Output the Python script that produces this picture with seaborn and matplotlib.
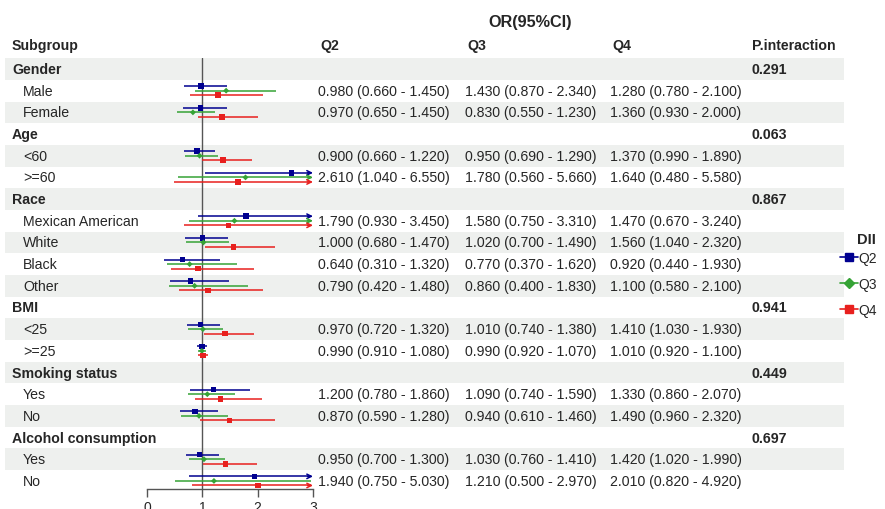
import numpy as np
import pandas as pd
import matplotlib
matplotlib.use("Agg")
import matplotlib.pyplot as plt
from matplotlib.lines import Line2D
import seaborn as sns

sns.set_theme(style="white")
plt.rcParams['font.family'] = ['Liberation Sans', 'DejaVu Sans']

# ---------------- data ----------------
groups = ["Gender", "Age", "Race", "BMI", "Smoking status", "Alcohol consumption"]
p_interaction = ["0.291", "0.063", "0.867", "0.941", "0.449", "0.697"]
subgroups = [["Male", "Female"], ["<60", ">=60"],
             ["Mexican American", "White", "Black", "Other"],
             ["<25", ">=25"], ["Yes", "No"], ["Yes", "No"]]

q2_or = [0.980, 0.970, 0.900, 2.610, 1.790, 1.000, 0.640, 0.790, 0.970, 0.990, 1.200, 0.870, 0.950, 1.940]
q2_lo = [0.660, 0.650, 0.660, 1.040, 0.930, 0.680, 0.310, 0.420, 0.720, 0.910, 0.780, 0.590, 0.700, 0.750]
q2_hi = [1.450, 1.450, 1.220, 6.550, 3.450, 1.470, 1.320, 1.480, 1.320, 1.080, 1.860, 1.280, 1.300, 5.030]

q3_or = [1.430, 0.830, 0.950, 1.780, 1.580, 1.020, 0.770, 0.860, 1.010, 0.990, 1.090, 0.940, 1.030, 1.210]
q3_lo = [0.870, 0.550, 0.690, 0.560, 0.750, 0.700, 0.370, 0.400, 0.740, 0.920, 0.740, 0.610, 0.760, 0.500]
q3_hi = [2.340, 1.230, 1.290, 5.660, 3.310, 1.490, 1.620, 1.830, 1.380, 1.070, 1.590, 1.460, 1.410, 2.970]

q4_or = [1.280, 1.360, 1.370, 1.640, 1.470, 1.560, 0.920, 1.100, 1.410, 1.010, 1.330, 1.490, 1.420, 2.010]
q4_lo = [0.780, 0.930, 0.990, 0.480, 0.670, 1.040, 0.440, 0.580, 1.030, 0.920, 0.860, 0.960, 1.020, 0.820]
q4_hi = [2.100, 2.000, 1.890, 5.580, 3.240, 2.320, 1.930, 2.100, 1.930, 1.100, 2.070, 2.320, 1.990, 4.920]

quartiles = ["Q2", "Q3", "Q4"]
x_ticks = [0, 1, 2, 3]

# ---------------- style ----------------
colors = {"Q2": "#000090", "Q3": "#35A335", "Q4": "#E8201E"}
markers = {"Q2": "s", "Q3": "D", "Q4": "s"}
msize = {"Q2": 16, "Q3": 9, "Q4": 16}
offsets = {"Q2": -0.21, "Q3": 0.0, "Q4": 0.21}
shade = "#EEF0EE"
W, H = 885, 510
row0, pitch = 70.0, 21.68

# build row layout
rows = []  # (label, is_group, p, data_index)
k = 0
for g, p, subs in zip(groups, p_interaction, subgroups):
    rows.append((g, True, p, None))
    for s in subs:
        rows.append((s, False, "", k))
        k += 1

recs = []
series = {"Q2": (q2_or, q2_lo, q2_hi), "Q3": (q3_or, q3_lo, q3_hi), "Q4": (q4_or, q4_lo, q4_hi)}
for i, (lab, isg, p, di) in enumerate(rows):
    if di is None:
        continue
    for q in quartiles:
        o, lo, hi = series[q]
        recs.append(dict(row=i, y=i + offsets[q], quartile=q, OR=o[di], lo=lo[di], hi=hi[di]))
df = pd.DataFrame(recs)

fig = plt.figure(figsize=(W / 100, H / 100), dpi=100)

# background / table axes in pixel coordinates
bg = fig.add_axes([0, 0, 1, 1])
bg.set_xlim(0, W)
bg.set_ylim(H, 0)
bg.axis("off")

def ypix(i):
    return row0 + pitch * i

for i in range(len(rows)):
    if i % 2 == 0:
        bg.add_patch(plt.Rectangle((5, ypix(i) - pitch / 2), 839, pitch,
                                   facecolor=shade, edgecolor="none", zorder=0))

fs = 10.15
bg.text(530, 22, "OR(95%CI)", ha="center", va="center", fontsize=11.7, fontweight="bold")
hy = 46
bg.text(12, hy, "Subgroup", ha="left", va="center", fontsize=fs, fontweight="bold")
col_x = {"Q2": 318, "Q3": 465, "Q4": 610}
for q in quartiles:
    bg.text(col_x[q] + 2, hy, q, ha="left", va="center", fontsize=fs, fontweight="bold")
bg.text(752, hy, "P.interaction", ha="left", va="center", fontsize=fs, fontweight="bold")

for i, (lab, isg, p, di) in enumerate(rows):
    y = ypix(i)
    if isg:
        bg.text(12, y, lab, ha="left", va="center", fontsize=fs, fontweight="bold")
        bg.text(752, y, p, ha="left", va="center", fontsize=fs, fontweight="bold")
    else:
        bg.text(23, y, lab, ha="left", va="center", fontsize=fs)
        for q in quartiles:
            o, lo, hi = series[q]
            bg.text(col_x[q], y, f"{o[di]:.3f} ({lo[di]:.3f} - {hi[di]:.3f})",
                    ha="left", va="center", fontsize=fs)

# forest axes
top_px, bot_px = 59, 490
x0_px, x3_px = 147, 313
ax = fig.add_axes([x0_px / W, 1 - bot_px / H, (x3_px - x0_px) / W, (bot_px - top_px) / H])
ax.set_facecolor("none")
ax.set_xlim(0, 3)
ax.set_ylim((bot_px - row0) / pitch, (top_px - row0) / pitch)

ax.axvline(1, color="#555555", lw=1.0, zorder=1)

for _, r in df.iterrows():
    c = colors[r.quartile]
    if r.hi > 3:
        ax.hlines(r.y, r.lo, 2.97, color=c, lw=1.1, zorder=2)
        ax.annotate("", xy=(3.0, r.y), xytext=(2.9, r.y),
                    arrowprops=dict(arrowstyle="->", color=c, lw=1.1,
                                    mutation_scale=8, shrinkA=0, shrinkB=0),
                    annotation_clip=False, zorder=2)
    else:
        ax.hlines(r.y, r.lo, r.hi, color=c, lw=1.1, zorder=2)

sns.scatterplot(data=df, x="OR", y="y", hue="quartile", style="quartile",
                palette=colors, markers=markers, size="quartile", sizes=msize,
                linewidth=0, ax=ax, legend=False, zorder=3)

sns.despine(ax=ax, left=True, top=True, right=True)
ax.spines["bottom"].set_color("#555555")
ax.spines["bottom"].set_linewidth(1.0)
ax.set_xticks(x_ticks)
ax.set_xticklabels([str(t) for t in x_ticks])
ax.tick_params(axis="x", direction="out", length=6, width=1.0, color="#555555",
               labelsize=10, pad=2, bottom=True)
ax.set_yticks([])
ax.set_xlabel("")
ax.set_ylabel("")

# legend
bg.text(866, 240, "DII", ha="center", va="center", fontsize=10.5, fontweight="bold")
handles = [Line2D([0], [0], color=colors[q], marker=markers[q], lw=1.2,
                  markersize=(6 if q != "Q3" else 5)) for q in quartiles]
leg = fig.legend(handles, quartiles, loc="upper left",
                 bbox_to_anchor=(840 / W, 1 - 252 / H), frameon=False,
                 fontsize=10, handlelength=1.3, handletextpad=0.05, labelspacing=0.87,
                 borderaxespad=0, borderpad=0)

fig.savefig("out.png", dpi=100)
